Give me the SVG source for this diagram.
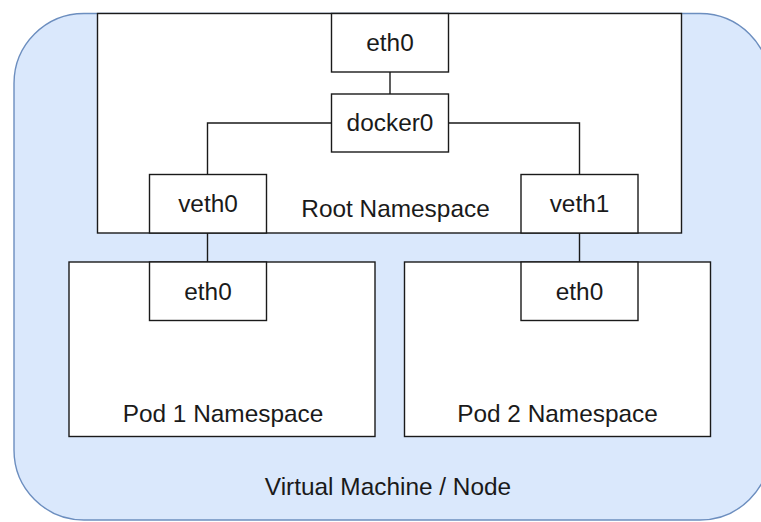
<svg xmlns="http://www.w3.org/2000/svg" width="761" height="522" viewBox="0 0 761 522">
  <style>
    .box { fill: #ffffff; stroke: #1a1a1a; stroke-width: 1.4; }
    .lbl { font-family: "Liberation Sans", Arial, sans-serif; font-size: 24.4px; fill: #1a1a1a; text-anchor: middle; }
    .wire { fill: none; stroke: #1a1a1a; stroke-width: 1.4; }
  </style>

  <!-- host VM -->
  <g id="vm-node">
    <rect x="14" y="13.5" width="756" height="506.5" rx="70" ry="70" fill="#dae8fc" stroke="#6c8ebf" stroke-width="1.4"/>
    <text class="lbl" x="388" y="495">Virtual Machine / Node</text>
  </g>

  <!-- root network namespace -->
  <g id="root-ns">
    <rect class="box" x="97.5" y="13.5" width="584" height="219.5"/>
    <text class="lbl" x="395.5" y="217">Root Namespace</text>
  </g>

  <!-- pod namespaces -->
  <g id="pod1-ns">
    <rect class="box" x="69" y="262" width="306" height="174.5"/>
    <text class="lbl" x="223" y="421.5">Pod 1 Namespace</text>
  </g>
  <g id="pod2-ns">
    <rect class="box" x="404.5" y="262" width="306" height="174.5"/>
    <text class="lbl" x="557.5" y="421.5">Pod 2 Namespace</text>
  </g>

  <!-- links between interfaces -->
  <g id="connectors">
    <path class="wire" d="M390 72 V94"/>
    <path class="wire" d="M331.5 123 H207.5 V174.5"/>
    <path class="wire" d="M448.5 123 H579.5 V174.5"/>
    <path class="wire" d="M207.5 233 V262"/>
    <path class="wire" d="M579.5 233 V262"/>
  </g>

  <!-- interfaces -->
  <g id="host-eth0">
    <rect class="box" x="331.5" y="13.5" width="117" height="58.5"/>
    <text class="lbl" x="390" y="51">eth0</text>
  </g>
  <g id="docker0">
    <rect class="box" x="331.5" y="94" width="117" height="58"/>
    <text class="lbl" x="390" y="131">docker0</text>
  </g>
  <g id="veth0">
    <rect class="box" x="149.5" y="174.5" width="117" height="58.5"/>
    <text class="lbl" x="208" y="212">veth0</text>
  </g>
  <g id="veth1">
    <rect class="box" x="521" y="174.5" width="117" height="58.5"/>
    <text class="lbl" x="579.5" y="212">veth1</text>
  </g>
  <g id="pod1-eth0">
    <rect class="box" x="149.5" y="262" width="117" height="58.5"/>
    <text class="lbl" x="208" y="299.5">eth0</text>
  </g>
  <g id="pod2-eth0">
    <rect class="box" x="521" y="262" width="117" height="58.5"/>
    <text class="lbl" x="579.5" y="299.5">eth0</text>
  </g>
</svg>
